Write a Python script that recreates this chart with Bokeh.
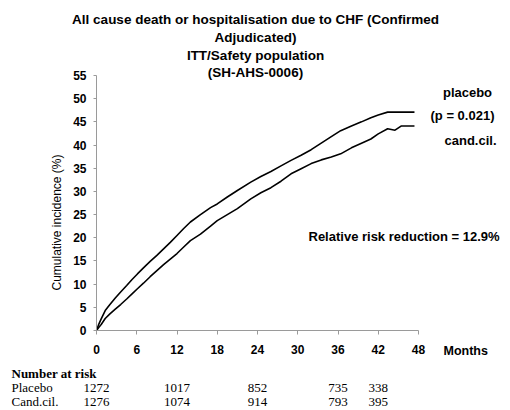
import math
from bokeh.plotting import figure
from bokeh.models import LinearAxis, FixedTicker, Label, ColumnDataSource, Range1d
from bokeh.core.properties import value
from bokeh.embed import file_html
from bokeh.resources import INLINE

# ---------------- data ----------------
placebo_months = [0, 0.3, 0.7, 1.3, 2.0, 2.8, 3.6, 4.5, 5.3, 6.1, 7.0, 8.0, 9.0, 10.0, 11.0, 12.0,
                  13.0, 14.0, 15.5, 17.0, 18.0, 19.5, 21.0, 23.0, 24.5, 26.0, 27.5, 29.0, 30.5,
                  32.0, 33.5, 35.0, 36.4, 38.0, 39.5, 40.9, 42.0, 43.4, 47.4]
placebo_values = [0, 1.2, 2.5, 4.3, 5.6, 7.0, 8.3, 9.7, 11.0, 12.2, 13.5, 14.9, 16.2, 17.6, 19.0, 20.5,
                  22.0, 23.4, 25.0, 26.5, 27.3, 28.8, 30.2, 32.0, 33.2, 34.3, 35.5, 36.7, 37.8,
                  39.0, 40.4, 41.8, 43.1, 44.1, 45.0, 45.9, 46.5, 47.1, 47.1]

cand_months = [0, 0.3, 0.7, 1.3, 2.0, 2.8, 3.6, 4.5, 5.3, 6.1, 7.0, 8.0, 9.0, 10.0, 11.0, 12.0,
               13.0, 14.0, 15.5, 17.0, 18.0, 19.5, 21.0, 23.0, 24.5, 26.0, 27.5, 29.0, 30.5,
               32.0, 33.5, 35.0, 36.4, 38.0, 39.5, 40.9, 42.0, 43.4, 44.5, 45.4, 47.4]
cand_values = [0, 0.6, 1.3, 2.6, 3.6, 4.6, 5.6, 6.8, 7.9, 9.0, 10.2, 11.6, 12.9, 14.2, 15.4, 16.6,
               18.0, 19.4, 20.8, 22.5, 23.7, 25.0, 26.3, 28.4, 29.7, 30.8, 32.2, 33.8, 34.9,
               36.0, 36.8, 37.4, 38.1, 39.4, 40.4, 41.3, 42.4, 43.5, 43.2, 44.1, 44.1]

y_ticks = [0, 5, 10, 15, 20, 25, 30, 35, 40, 45, 50, 55]
x_ticks = [0, 6, 12, 18, 24, 30, 36, 42, 48]

risk_months = [0, 12, 24, 36, 42]
risk_placebo = [1272, 1017, 852, 735, 338]
risk_cand = [1276, 1074, 914, 793, 395]

title_lines = ["All cause death or hospitalisation due to CHF (Confirmed",
               "Adjudicated)",
               "ITT/Safety population",
               "(SH-AHS-0006)"]

# ---------------- layout (pixel geometry) ----------------
W, H = 510, 410
X0_PX, X48_PX = 96.0, 418.0     # pixel of month 0 and month 48
Y0_PX, Y55_PX = 330.0, 75.0     # pixel of 0% and 55%
sx = (X48_PX - X0_PX) / 48.0
sy = (Y0_PX - Y55_PX) / 55.0

def dx(px):
    return (px - X0_PX) / sx

def dy(py):
    return (Y0_PX - py) / sy

p = figure(width=W, height=H, output_backend="svg", toolbar_location=None,
           x_axis_location=None, y_axis_location=None,
           x_range=Range1d(dx(0), dx(W)), y_range=Range1d(dy(H), dy(0)),
           min_border=0, min_border_left=0, min_border_right=0,
           min_border_top=0, min_border_bottom=0)
p.outline_line_color = None
p.xgrid.visible = False
p.ygrid.visible = False
p.background_fill_color = "white"
p.border_fill_color = "white"

FONT = "Liberation Sans"
AX_COL = "#9a9a9a"

yaxis = LinearAxis(fixed_location=0, bounds=(0, 55), ticker=FixedTicker(ticks=y_ticks))
yaxis.axis_line_color = AX_COL
yaxis.major_tick_line_color = AX_COL
yaxis.major_tick_out = 3
yaxis.major_tick_in = 0
yaxis.minor_tick_line_color = None
yaxis.major_label_text_font = FONT
yaxis.major_label_text_font_style = "bold"
yaxis.major_label_text_font_size = "12px"
yaxis.major_label_text_color = "black"
yaxis.major_label_standoff = 7
p.add_layout(yaxis, "left")

xaxis = LinearAxis(fixed_location=0, bounds=(0, 48), ticker=FixedTicker(ticks=x_ticks))
xaxis.axis_line_color = AX_COL
xaxis.major_tick_line_color = AX_COL
xaxis.major_tick_out = 4
xaxis.major_tick_in = 0
xaxis.minor_tick_line_color = None
xaxis.major_label_text_font = FONT
xaxis.major_label_text_font_style = "bold"
xaxis.major_label_text_font_size = "12px"
xaxis.major_label_text_color = "black"
xaxis.major_label_standoff = 10
p.add_layout(xaxis, "below")

# curves
p.line(placebo_months, placebo_values, line_color="black", line_width=1.6)
p.line(cand_months, cand_values, line_color="black", line_width=1.6)

def add_label(text, px, py, size="13px", style="bold", align="center", font=FONT, angle=0.0):
    p.add_layout(Label(x=dx(px), y=dy(py), text=text, text_font=font,
                       text_font_size=size, text_font_style=style, text_align=align,
                       text_baseline="middle", text_color="black", angle=angle))

# titles
for txt, py in zip(title_lines, [18.5, 36.5, 54.5, 72]):
    add_label(txt, 255, py, size="13.5px")

add_label("Months", 443, 350, size="12.5px", align="left")
add_label("Cumulative incidence (%)", 56, 222, size="12px", style="normal", angle=math.pi / 2)

add_label("placebo", 467, 92)
add_label("(p = 0.021)", 462, 115)
add_label("cand.cil.", 470, 140)
add_label("Relative risk reduction = 12.9%", 308, 236, align="left")

SERIF = "Liberation Serif"
add_label("Number at risk", 11, 373, size="13px", style="bold", align="left", font=SERIF)
add_label("Placebo", 11, 387, size="13px", style="normal", align="left", font=SERIF)
add_label("Cand.cil.", 11, 401, size="13px", style="normal", align="left", font=SERIF)

src = ColumnDataSource(dict(
    x=risk_months + risk_months,
    y=[dy(387)] * len(risk_months) + [dy(401)] * len(risk_months),
    t=[str(v) for v in risk_placebo] + [str(v) for v in risk_cand],
))
p.text(x="x", y="y", text="t", source=src, text_font=value(SERIF), text_font_size="13px",
       text_align="center", text_baseline="middle", text_color="black")

open("out.html", "w").write(file_html(p, INLINE))
